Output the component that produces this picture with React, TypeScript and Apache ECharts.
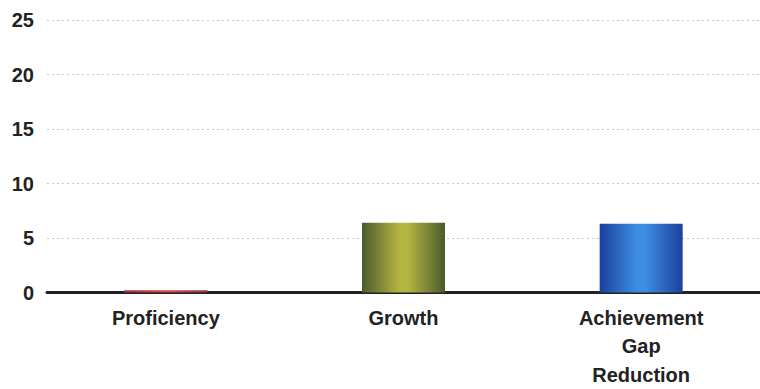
import React, { useEffect, useRef } from "react";
import * as echarts from "echarts";

const categories = ["Proficiency", "Growth", "Achievement\nGap\nReduction"];
const values = [0.2, 6.4, 6.3];
const yTicks = [0, 5, 10, 15, 20, 25];

const grad = (edge: string, mid: string) =>
  new echarts.graphic.LinearGradient(0, 0, 1, 0, [
    { offset: 0, color: edge },
    { offset: 0.45, color: mid },
    { offset: 0.55, color: mid },
    { offset: 1, color: edge },
  ]);

export default function App() {
  const ref = useRef<HTMLDivElement>(null);
  useEffect(() => {
    const chart = echarts.init(ref.current!, null, { renderer: "svg" });
    const colors = [
      grad("#8e3a3a", "#d04848"),
      grad("#4b5a2c", "#b5b542"),
      grad("#1c3f9e", "#3d8ee2"),
    ];
    chart.setOption({
      animation: false,
      grid: { left: 47, top: 20, width: 720, bottom: 92 },
      xAxis: {
        type: "category",
        data: categories,
        axisLine: { show: true, lineStyle: { color: "#222", width: 3 } },
        axisTick: { show: false },
        axisLabel: {
          color: "#222",
          fontFamily: "Liberation Sans, Arial, sans-serif",
          fontWeight: "bold",
          fontSize: 20,
          lineHeight: 28.5,
          margin: 11,
        },
      },
      yAxis: {
        type: "value",
        min: 0,
        max: 25,
        interval: 5,
        axisLine: { show: false },
        axisTick: { show: false },
        axisLabel: {
          color: "#222",
          fontFamily: "Liberation Sans, Arial, sans-serif",
          fontWeight: "bold",
          fontSize: 20,
          margin: 13,
          formatter: (v: number) => (yTicks.includes(v) ? String(v) : ""),
        },
        splitLine: { lineStyle: { color: "#c8c8c8", type: [2, 3], width: 1 } },
      },
      series: [
        {
          type: "bar",
          data: values.map((v, i) => ({ value: v, itemStyle: { color: colors[i] } })),
          barWidth: 83,
        },
      ],
    });
    return () => chart.dispose();
  }, []);
  return <div ref={ref} style={{ width: 760, height: 389, position: "absolute", left: 0, top: 0 }} />;
}
